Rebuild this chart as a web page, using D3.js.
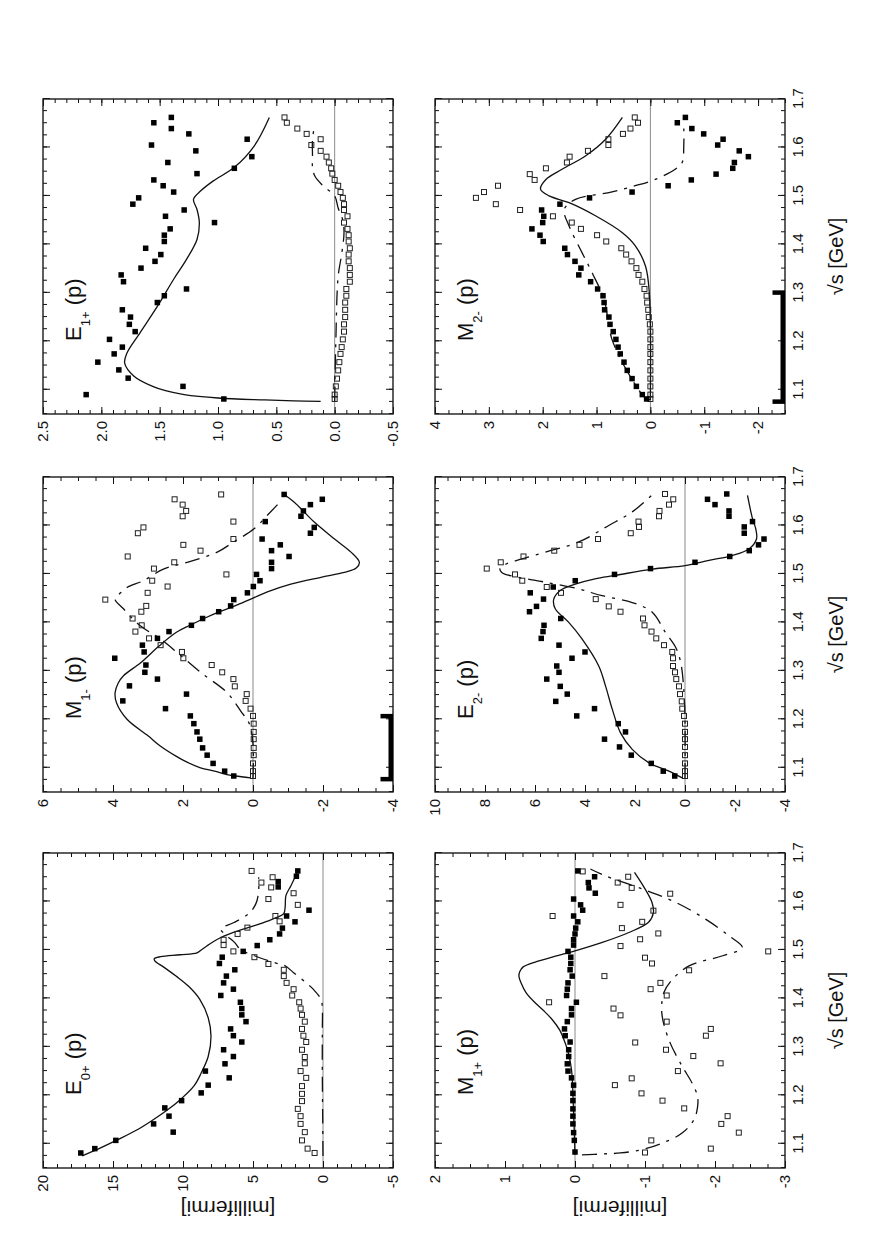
<!DOCTYPE html>
<html>
<head>
<meta charset="utf-8">
<script src="https://cdn.jsdelivr.net/npm/d3@7"></script>
<style>
  body { margin: 0; background: #fff; }
  svg text { font-family: "Liberation Sans", Arial, Helvetica, sans-serif; fill: #111; }
</style>
</head>
<body>
<svg id="fig" width="872" height="1257"></svg>
<script>
// ---- shared axis data ----
var wDomain = [1.05, 1.7];
var wMajor = [1.1, 1.2, 1.3, 1.4, 1.5, 1.6, 1.7];
var wLabels = ["1.1", "1.2", "1.3", "1.4", "1.5", "1.6", "1.7"];

// ---- E0+ ----
var e0pTicks = [-5, 0, 5, 10, 15, 20];
var e0pRe = [[1.081,17.3],[1.090,16.3],[1.107,14.8],[1.124,10.7],[1.141,12.1],[1.157,11.0],[1.174,11.3],[1.189,10.1],[1.205,8.7],[1.221,8.2],[1.236,6.7],[1.250,8.4],[1.265,7.0],[1.280,6.4],[1.294,7.1],[1.310,5.8],[1.323,6.4],[1.337,6.6],[1.352,5.5],[1.366,5.8],[1.379,5.8],[1.392,5.9],[1.406,7.3],[1.419,6.4],[1.432,7.1],[1.446,6.9],[1.459,6.3],[1.472,7.4],[1.485,7.2],[1.497,5.7],[1.509,4.7],[1.521,3.8],[1.533,3.1],[1.545,2.9],[1.558,2.0],[1.570,2.6],[1.582,1.0],[1.630,3.2],[1.641,3.2],[1.652,1.9],[1.663,1.8]];
var e0pIm = [[1.081,0.6],[1.090,1.1],[1.107,1.5],[1.124,1.3],[1.141,1.6],[1.157,1.6],[1.172,1.8],[1.188,1.5],[1.203,1.5],[1.219,1.5],[1.236,1.2],[1.250,1.6],[1.266,1.3],[1.279,1.3],[1.294,1.5],[1.310,1.2],[1.323,1.4],[1.337,1.5],[1.352,1.3],[1.366,1.5],[1.379,1.6],[1.392,1.7],[1.406,2.2],[1.419,2.1],[1.432,2.6],[1.446,2.8],[1.459,2.8],[1.471,3.9],[1.485,4.9],[1.497,6.4],[1.510,7.1],[1.521,7.1],[1.533,6.1],[1.546,5.4],[1.559,3.1],[1.570,3.4],[1.593,1.8],[1.605,3.9],[1.617,2.1],[1.629,3.7],[1.639,4.4],[1.650,3.6],[1.663,5.1]];
var e0pReLine = [[1.075,17.2],[1.090,16.0],[1.108,14.7],[1.130,13.2],[1.150,12.1],[1.170,11.1],[1.191,10.2],[1.220,9.2],[1.246,8.7],[1.280,8.2],[1.322,8.0],[1.360,8.2],[1.398,8.8],[1.425,9.6],[1.446,10.5],[1.465,11.4],[1.477,12.0],[1.482,12.05],[1.486,11.6],[1.490,10.2],[1.494,9.0],[1.500,8.7],[1.508,8.3],[1.521,7.6],[1.536,6.4],[1.550,4.9],[1.560,3.9],[1.567,3.3],[1.575,2.8],[1.590,2.7],[1.612,2.65],[1.632,2.3],[1.650,2.0],[1.663,1.8]];
var e0pImLine = [[1.075,0.0],[1.150,0.02],[1.250,0.05],[1.330,0.05],[1.380,0.05],[1.398,0.14],[1.419,0.7],[1.432,1.2],[1.453,2.1],[1.467,2.7],[1.474,3.5],[1.488,4.9],[1.501,5.9],[1.515,6.3],[1.530,6.9],[1.543,7.3],[1.556,6.4],[1.575,5.3],[1.595,4.8],[1.620,4.6],[1.650,4.6]];

// ---- M1- ----
var m1mTicks = [-4, -2, 0, 2, 4, 6];
var m1mRe = [[1.083,0.55],[1.093,0.81],[1.109,1.14],[1.126,1.31],[1.141,1.44],[1.159,1.52],[1.174,1.60],[1.191,1.69],[1.207,1.79],[1.222,2.50],[1.238,3.72],[1.252,1.90],[1.269,3.53],[1.283,2.73],[1.297,3.09],[1.312,3.06],[1.326,3.95],[1.339,3.11],[1.353,3.16],[1.367,2.73],[1.381,2.40],[1.394,1.76],[1.408,1.44],[1.422,0.98],[1.434,0.64],[1.447,0.55],[1.461,0.16],[1.474,-0.01],[1.486,-0.20],[1.499,-0.10],[1.511,-0.53],[1.524,-0.53],[1.536,-1.03],[1.548,-0.53],[1.560,-0.78],[1.572,-0.26],[1.584,-1.64],[1.596,-1.75],[1.608,-0.35],[1.619,-1.37],[1.630,-1.44],[1.643,-1.64],[1.654,-1.98],[1.664,-0.89]];
var m1mIm = [[1.083,0],[1.093,0],[1.109,0],[1.126,-0.02],[1.141,-0.02],[1.159,-0.02],[1.174,-0.02],[1.191,-0.02],[1.207,0],[1.222,0.07],[1.238,0.21],[1.252,0.18],[1.268,0.52],[1.283,0.56],[1.297,0.88],[1.312,1.18],[1.326,1.99],[1.339,2.03],[1.353,2.64],[1.367,2.97],[1.381,3.36],[1.394,3.18],[1.408,3.44],[1.422,3.19],[1.434,3.05],[1.447,4.22],[1.461,3.01],[1.474,2.44],[1.486,2.88],[1.499,0.76],[1.511,2.83],[1.524,2.25],[1.536,3.58],[1.548,1.50],[1.560,1.99],[1.572,0.56],[1.584,3.29],[1.596,3.13],[1.608,0.56],[1.619,2.01],[1.630,1.91],[1.643,2.01],[1.654,2.24],[1.664,0.91]];
var m1mReLine = [[1.079,0.07],[1.083,0.5],[1.086,0.75],[1.093,1.1],[1.100,1.5],[1.112,1.9],[1.124,2.2],[1.145,2.65],[1.166,3.0],[1.200,3.6],[1.234,3.9],[1.255,3.94],[1.275,3.85],[1.290,3.7],[1.317,3.2],[1.350,2.7],[1.379,2.2],[1.394,1.8],[1.408,1.4],[1.422,0.95],[1.436,0.45],[1.450,0.0],[1.463,-0.41],[1.479,-1.08],[1.493,-1.94],[1.503,-2.61],[1.512,-2.95],[1.524,-3.04],[1.545,-2.8],[1.572,-2.33],[1.607,-1.75],[1.648,-1.18],[1.664,-0.89]];
var m1mImLine = [[1.079,0],[1.150,0],[1.190,0.1],[1.217,0.35],[1.255,0.74],[1.297,1.5],[1.338,2.17],[1.366,2.65],[1.393,3.22],[1.428,3.7],[1.448,3.94],[1.460,3.8],[1.472,3.6],[1.486,3.13],[1.510,2.56],[1.524,1.88],[1.545,1.02],[1.566,0.55],[1.593,-0.03],[1.621,-0.41],[1.643,-0.7]];

// ---- E1+ ----
var e1pTicks = [-0.5, 0, 0.5, 1, 1.5, 2, 2.5];
var e1pRe = [[1.081,0.95],[1.090,2.13],[1.107,1.30],[1.124,1.77],[1.141,1.85],[1.157,2.03],[1.174,1.89],[1.188,1.82],[1.204,1.93],[1.220,1.71],[1.235,1.76],[1.250,1.75],[1.265,1.82],[1.280,1.52],[1.294,1.46],[1.308,1.27],[1.323,1.81],[1.337,1.83],[1.351,1.66],[1.365,1.54],[1.379,1.49],[1.392,1.62],[1.406,1.46],[1.419,1.46],[1.432,1.41],[1.445,1.03],[1.458,1.45],[1.471,1.29],[1.483,1.73],[1.496,1.68],[1.508,1.38],[1.521,1.47],[1.533,1.55],[1.546,1.18],[1.557,0.86],[1.569,1.43],[1.581,0.71],[1.593,1.19],[1.605,1.57],[1.617,0.75],[1.628,1.25],[1.639,1.40],[1.651,1.55],[1.662,1.40]];
var e1pIm = [[1.081,0.0],[1.090,0.0],[1.107,-0.01],[1.123,-0.02],[1.140,-0.03],[1.157,-0.04],[1.174,-0.05],[1.188,-0.06],[1.204,-0.07],[1.220,-0.08],[1.235,-0.08],[1.250,-0.09],[1.265,-0.09],[1.280,-0.09],[1.294,-0.10],[1.308,-0.10],[1.323,-0.13],[1.337,-0.13],[1.351,-0.13],[1.365,-0.12],[1.379,-0.12],[1.392,-0.13],[1.406,-0.12],[1.419,-0.12],[1.432,-0.11],[1.445,-0.08],[1.458,-0.11],[1.471,-0.08],[1.483,-0.08],[1.496,-0.07],[1.508,-0.05],[1.521,-0.03],[1.533,0.0],[1.546,0.02],[1.557,0.03],[1.569,0.05],[1.581,0.07],[1.593,0.12],[1.605,0.20],[1.617,0.12],[1.628,0.24],[1.639,0.32],[1.651,0.41],[1.662,0.43]];
var e1pReLine = [[1.076,0.12],[1.077,0.35],[1.079,0.6],[1.083,1.0],[1.090,1.29],[1.098,1.45],[1.107,1.56],[1.128,1.72],[1.155,1.80],[1.176,1.78],[1.217,1.67],[1.272,1.52],[1.328,1.38],[1.369,1.27],[1.410,1.18],[1.445,1.16],[1.472,1.18],[1.493,1.21],[1.510,1.15],[1.531,1.04],[1.559,0.86],[1.603,0.69],[1.662,0.56]];
var e1pImLine = [[1.076,0.0],[1.200,-0.01],[1.334,-0.03],[1.380,-0.06],[1.424,-0.08],[1.450,-0.07],[1.475,-0.03],[1.500,0.0],[1.521,0.10],[1.541,0.17],[1.560,0.19],[1.583,0.19],[1.617,0.19],[1.648,0.17]];

// ---- M1+ ----
var m1pTicks = [-3, -2, -1, 0, 1, 2];
var m1pRe = [[1.083,0.0],[1.107,0.01],[1.123,0.02],[1.141,0.03],[1.157,0.03],[1.172,0.03],[1.189,0.03],[1.204,0.03],[1.221,0.02],[1.236,0.05],[1.250,0.10],[1.265,0.11],[1.280,0.09],[1.294,0.09],[1.310,0.07],[1.323,0.14],[1.337,0.15],[1.352,0.11],[1.366,0.05],[1.379,0.05],[1.392,-0.02],[1.406,0.12],[1.419,0.11],[1.432,0.10],[1.446,0.04],[1.459,0.07],[1.472,0.06],[1.485,0.06],[1.497,0.10],[1.510,0.02],[1.521,0.02],[1.533,0.0],[1.545,-0.01],[1.558,-0.04],[1.570,0.02],[1.582,-0.11],[1.593,-0.08],[1.605,0.02],[1.617,-0.29],[1.628,-0.20],[1.639,-0.19],[1.651,-0.28],[1.663,-0.04]];
var m1pIm = [[1.082,-1.00],[1.090,-1.94],[1.107,-1.09],[1.123,-2.34],[1.141,-2.09],[1.157,-2.18],[1.173,-1.56],[1.189,-1.25],[1.204,-0.95],[1.221,-0.57],[1.235,-0.81],[1.250,-1.47],[1.266,-2.08],[1.281,-1.69],[1.294,-1.30],[1.309,-0.86],[1.323,-1.87],[1.337,-1.94],[1.352,-1.31],[1.365,-0.65],[1.379,-0.55],[1.392,0.37],[1.406,-1.31],[1.419,-1.08],[1.432,-1.22],[1.446,-0.42],[1.458,-1.63],[1.472,-1.10],[1.484,-1.00],[1.497,-2.76],[1.508,-0.65],[1.522,-0.93],[1.534,-1.19],[1.545,-0.67],[1.558,-0.96],[1.570,0.32],[1.581,-1.12],[1.593,-0.65],[1.616,-1.36],[1.628,-0.81],[1.639,-0.61],[1.651,-0.76],[1.662,-0.11]];
var m1pReLine = [[1.078,0.0],[1.163,0.02],[1.253,0.05],[1.290,0.10],[1.308,0.14],[1.335,0.22],[1.357,0.33],[1.375,0.45],[1.391,0.57],[1.412,0.70],[1.432,0.77],[1.445,0.80],[1.455,0.79],[1.465,0.74],[1.476,0.55],[1.487,0.28],[1.498,0.0],[1.515,-0.38],[1.536,-0.77],[1.557,-1.05],[1.577,-1.12],[1.598,-1.10],[1.626,-1.00],[1.660,-0.85]];
var m1pImLine = [[1.077,-0.10],[1.079,-0.4],[1.081,-0.65],[1.088,-0.96],[1.101,-1.24],[1.122,-1.53],[1.150,-1.70],[1.175,-1.75],[1.198,-1.75],[1.226,-1.67],[1.260,-1.53],[1.315,-1.34],[1.370,-1.24],[1.412,-1.27],[1.439,-1.39],[1.467,-1.63],[1.488,-2.11],[1.505,-2.39],[1.529,-2.20],[1.563,-1.87],[1.598,-1.44],[1.626,-0.96],[1.653,-0.43],[1.667,-0.22]];

// ---- E2- ----
var e2mTicks = [-4, -2, 0, 2, 4, 6, 8, 10];
var e2mRe = [[1.083,0.41],[1.093,0.87],[1.109,1.35],[1.126,2.15],[1.143,2.62],[1.159,3.22],[1.174,2.38],[1.191,2.67],[1.207,4.33],[1.222,3.62],[1.237,5.17],[1.252,4.71],[1.268,4.99],[1.283,5.53],[1.297,5.04],[1.310,5.13],[1.326,4.52],[1.339,4.00],[1.353,5.04],[1.367,5.75],[1.381,5.68],[1.394,5.64],[1.408,4.97],[1.422,6.22],[1.433,5.94],[1.448,5.66],[1.461,6.19],[1.473,5.27],[1.486,4.39],[1.499,2.82],[1.511,1.38],[1.524,-0.40],[1.536,-1.79],[1.548,-2.57],[1.560,-2.94],[1.572,-3.16],[1.584,-2.37],[1.597,-2.37],[1.608,-2.70],[1.619,-1.76],[1.630,-1.76],[1.643,-1.20],[1.654,-0.90],[1.665,-1.67]];
var e2mIm = [[1.083,0],[1.093,0],[1.109,0],[1.126,0],[1.143,0],[1.159,0],[1.174,0],[1.191,0],[1.207,0.04],[1.222,0.11],[1.237,0.13],[1.252,0.20],[1.268,0.24],[1.283,0.35],[1.297,0.40],[1.310,0.48],[1.326,0.48],[1.339,0.51],[1.353,0.84],[1.367,1.15],[1.381,1.34],[1.394,1.62],[1.408,1.68],[1.422,2.58],[1.433,3.05],[1.448,3.57],[1.461,4.96],[1.473,5.53],[1.486,6.51],[1.499,6.80],[1.511,7.93],[1.524,7.37],[1.536,6.46],[1.548,5.23],[1.560,4.22],[1.572,3.48],[1.584,2.17],[1.597,1.84],[1.608,1.86],[1.619,1.04],[1.630,1.02],[1.643,0.64],[1.654,0.47],[1.665,0.80]];
var e2mReLine = [[1.079,0.11],[1.093,0.64],[1.110,1.44],[1.138,2.11],[1.172,2.58],[1.221,2.91],[1.269,3.18],[1.310,3.45],[1.366,4.12],[1.400,4.65],[1.428,5.19],[1.448,5.25],[1.466,4.99],[1.479,4.39],[1.490,3.6],[1.497,2.78],[1.510,1.31],[1.517,0.0],[1.528,-0.96],[1.538,-1.90],[1.552,-2.57],[1.572,-2.86],[1.593,-2.83],[1.614,-2.70],[1.662,-2.50]];
var e2mImLine = [[1.079,0],[1.200,0],[1.255,0.04],[1.317,0.17],[1.348,0.37],[1.379,0.78],[1.421,1.31],[1.441,2.11],[1.455,3.32],[1.469,4.25],[1.483,5.59],[1.493,6.66],[1.503,7.33],[1.512,7.4],[1.521,7.13],[1.531,6.52],[1.545,5.59],[1.566,4.25],[1.600,3.05],[1.628,2.11],[1.662,1.34]];

// ---- M2- ----
var m2mTicks = [-2, -1, 0, 1, 2, 3, 4];
var m2mRe = [[1.081,0.07],[1.090,0.15],[1.107,0.26],[1.123,0.34],[1.140,0.43],[1.157,0.49],[1.174,0.56],[1.188,0.60],[1.204,0.64],[1.220,0.69],[1.235,0.75],[1.250,0.77],[1.265,0.85],[1.280,0.86],[1.294,0.88],[1.308,0.98],[1.323,1.11],[1.337,1.33],[1.351,1.29],[1.365,1.40],[1.379,1.54],[1.392,1.59],[1.406,1.99],[1.419,2.05],[1.432,2.20],[1.445,2.00],[1.458,1.98],[1.471,2.02],[1.483,1.68],[1.496,1.13],[1.508,0.34],[1.521,-0.33],[1.533,-0.76],[1.545,-1.22],[1.557,-1.53],[1.569,-1.56],[1.581,-1.82],[1.593,-1.65],[1.605,-1.25],[1.617,-1.35],[1.628,-0.99],[1.639,-0.77],[1.651,-0.50],[1.662,-0.65]];
var m2mIm = [[1.081,0],[1.090,0],[1.107,0],[1.123,0],[1.140,0],[1.157,0],[1.174,0],[1.188,0],[1.204,0],[1.220,0],[1.235,0.01],[1.250,0.03],[1.265,0.04],[1.280,0.06],[1.294,0.07],[1.308,0.11],[1.323,0.15],[1.337,0.22],[1.351,0.26],[1.365,0.35],[1.379,0.45],[1.392,0.54],[1.406,0.82],[1.419,0.99],[1.432,1.29],[1.445,1.46],[1.458,1.81],[1.471,2.42],[1.483,2.87],[1.496,3.24],[1.508,3.09],[1.521,2.83],[1.533,2.15],[1.545,2.24],[1.557,1.94],[1.569,1.55],[1.581,1.50],[1.593,1.16],[1.605,0.78],[1.617,0.78],[1.628,0.51],[1.639,0.37],[1.651,0.23],[1.662,0.29]];
var m2mReLine = [[1.079,0.0],[1.300,0.02],[1.355,0.09],[1.397,0.28],[1.424,0.52],[1.459,1.02],[1.486,1.51],[1.500,1.88],[1.514,2.04],[1.534,1.94],[1.555,1.64],[1.583,1.20],[1.617,0.83],[1.662,0.52]];
var m2mImLine = [[1.079,0.0],[1.083,0.09],[1.121,0.34],[1.203,0.71],[1.286,0.86],[1.341,1.08],[1.383,1.27],[1.438,1.51],[1.472,1.60],[1.493,1.39],[1.507,0.77],[1.521,0.28],[1.534,-0.09],[1.555,-0.46],[1.569,-0.59],[1.603,-0.62],[1.645,-0.62]];

// threshold bars drawn on the lower frame edge
var m1mBar = [1.076, 1.206];
var m2mBar = [1.075, 1.300];

// ---- layout (upright frame, rotated onto the page at the end) ----
var colX = [89, 465, 843], rowY = [43, 435];
var PW = 315, PH = 350;
var svg = d3.select("#fig");
svg.append("rect").attr("width", 872).attr("height", 1257).attr("fill", "#fff");
var root = svg.append("g").attr("transform", "translate(0,1257) rotate(-90)");

var fmtInt = function(v) { return String(v); };
var fmtDec = function(v) { return v.toFixed(1); };

var panels = [
  { sym: "E", sub: "0+", col: 0, row: 0, dom: [-5, 20], minor: 1, ticks: e0pTicks, fmt: fmtInt, re: e0pRe, im: e0pIm, reL: e0pReLine, imL: e0pImLine },
  { sym: "M", sub: "1-", col: 1, row: 0, dom: [-4, 6], minor: 0.5, ticks: m1mTicks, fmt: fmtInt, re: m1mRe, im: m1mIm, reL: m1mReLine, imL: m1mImLine, bar: m1mBar },
  { sym: "E", sub: "1+", col: 2, row: 0, dom: [-0.5, 2.5], minor: 0.1, ticks: e1pTicks, fmt: fmtDec, re: e1pRe, im: e1pIm, reL: e1pReLine, imL: e1pImLine },
  { sym: "M", sub: "1+", col: 0, row: 1, dom: [-3, 2], minor: 0.25, ticks: m1pTicks, fmt: fmtInt, re: m1pRe, im: m1pIm, reL: m1pReLine, imL: m1pImLine },
  { sym: "E", sub: "2-", col: 1, row: 1, dom: [-4, 10], minor: 0.5, ticks: e2mTicks, fmt: fmtInt, re: e2mRe, im: e2mIm, reL: e2mReLine, imL: e2mImLine },
  { sym: "M", sub: "2-", col: 2, row: 1, dom: [-2.5, 4], minor: 0.25, ticks: m2mTicks, fmt: fmtInt, re: m2mRe, im: m2mIm, reL: m2mReLine, imL: m2mImLine, bar: m2mBar }
];

function minorTicks(lo, hi, step) {
  var n = Math.round((hi - lo) / step);
  return d3.range(n + 1).map(function(i) { return +(lo + i * step).toFixed(4); });
}

function addAxis(g, axisFn, scale, values, size, pos, fmt) {
  var ax = axisFn(scale).tickValues(values).tickSizeInner(-size).tickSizeOuter(0);
  if (fmt) ax.tickFormat(fmt).tickPadding(7); else ax.tickFormat("");
  g.append("g")
      .attr("transform", pos)
      .call(ax)
      .attr("font-size", 15)            // axis() sets 10px, override afterwards
      .attr("font-family", null)
      .call(function(s) { s.select(".domain").remove(); })
      .call(function(s) { s.selectAll("line").attr("stroke", "#111").attr("stroke-width", 1); });
}

panels.forEach(function(p) {
  var x0 = colX[p.col], y0 = rowY[p.row];
  var x = d3.scaleLinear().domain(wDomain).range([x0, x0 + PW]);
  var y = d3.scaleLinear().domain(p.dom).range([y0 + PH, y0]);
  var g = root.append("g");

  // zero line
  g.append("line")
      .attr("x1", x0).attr("x2", x0 + PW)
      .attr("y1", y(0)).attr("y2", y(0))
      .attr("stroke", "#8a8a8a").attr("stroke-width", 1);

  var line = d3.line()
      .x(function(d) { return x(d[0]); })
      .y(function(d) { return y(d[1]); })
      .curve(d3.curveCatmullRom.alpha(0.5));

  g.append("path").attr("d", line(p.imL))
      .attr("fill", "none").attr("stroke", "#111").attr("stroke-width", 1.3)
      .attr("stroke-dasharray", "15,7,3,7");
  g.append("path").attr("d", line(p.reL))
      .attr("fill", "none").attr("stroke", "#111").attr("stroke-width", 1.3);

  // open squares (imaginary part)
  g.selectAll("rect.im").data(p.im).enter().append("rect")
      .attr("class", "im")
      .attr("x", function(d) { return x(d[0]) - 2.5; })
      .attr("y", function(d) { return y(d[1]) - 2.5; })
      .attr("width", 5).attr("height", 5)
      .attr("fill", "none").attr("stroke", "#222").attr("stroke-width", 1);
  // filled squares (real part)
  g.selectAll("rect.re").data(p.re).enter().append("rect")
      .attr("class", "re")
      .attr("x", function(d) { return x(d[0]) - 2.75; })
      .attr("y", function(d) { return y(d[1]) - 2.75; })
      .attr("width", 5.5).attr("height", 5.5)
      .attr("fill", "#000");

  // ticks on all four sides, pointing inwards
  var wMinor = minorTicks(wDomain[0], wDomain[1], 0.025);
  var vMinor = minorTicks(p.dom[0], p.dom[1], p.minor);
  var wFmt = function(d) { return wLabels[wMajor.indexOf(d)]; };
  addAxis(g, d3.axisBottom, x, wMinor, 4, "translate(0," + (y0 + PH) + ")");
  addAxis(g, d3.axisBottom, x, wMajor, 7, "translate(0," + (y0 + PH) + ")", p.row === 1 ? wFmt : null);
  addAxis(g, d3.axisTop, x, wMinor, 4, "translate(0," + y0 + ")");
  addAxis(g, d3.axisTop, x, wMajor, 7, "translate(0," + y0 + ")");
  addAxis(g, d3.axisLeft, y, vMinor, 4, "translate(" + x0 + ",0)");
  addAxis(g, d3.axisLeft, y, p.ticks, 7, "translate(" + x0 + ",0)", p.fmt);
  addAxis(g, d3.axisRight, y, vMinor, 4, "translate(" + (x0 + PW) + ",0)");
  addAxis(g, d3.axisRight, y, p.ticks, 7, "translate(" + (x0 + PW) + ",0)");

  // frame
  g.append("rect").attr("x", x0).attr("y", y0).attr("width", PW).attr("height", PH)
      .attr("fill", "none").attr("stroke", "#1a1a1a").attr("stroke-width", 1.4);

  // threshold bar
  if (p.bar) {
    var yb = y0 + PH;
    g.append("rect").attr("x", x(p.bar[0])).attr("y", yb - 4.5)
        .attr("width", x(p.bar[1]) - x(p.bar[0])).attr("height", 4.5).attr("fill", "#000");
    p.bar.forEach(function(w) {
      g.append("rect").attr("x", x(w) - 2).attr("y", yb - 12.5)
          .attr("width", 4.5).attr("height", 12.5).attr("fill", "#000");
    });
  }

  // panel title
  var t = g.append("text").attr("x", x0 + 73).attr("y", y0 + 38).attr("font-size", 22);
  t.append("tspan").text(p.sym);
  t.append("tspan").attr("font-size", 13).attr("dy", 9).text(p.sub);
  t.append("tspan").attr("dy", -9).text(" (p)");

  if (p.row === 1) {
    g.append("text").attr("x", x0 + PW / 2).attr("y", y0 + PH + 58)
        .attr("text-anchor", "middle").attr("font-size", 20).text("\u221As [GeV]");
  }
  if (p.col === 0) {
    g.append("text")
        .attr("transform", "translate(56," + (y0 + 185) + ") rotate(-90)")
        .attr("text-anchor", "middle").attr("font-size", 21).text("[millifermi]");
  }
});
</script>
</body>
</html>
